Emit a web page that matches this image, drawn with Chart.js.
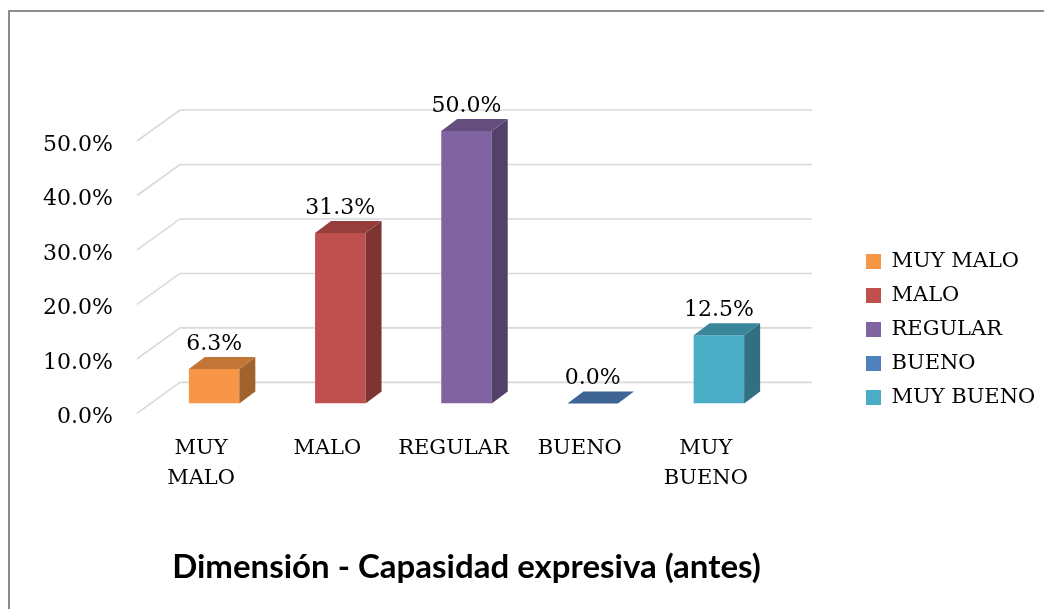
<!DOCTYPE html>
<html><head><meta charset="utf-8">
<script src="https://cdn.jsdelivr.net/npm/chart.js@4.4.0/dist/chart.umd.min.js"></script>
<style>
html,body{margin:0;padding:0;background:#fff;}
#wrap{position:relative;width:1044px;height:609px;overflow:hidden;background:#fff;}
#frame{position:absolute;left:8px;top:10px;width:1100px;height:700px;border:2px solid #8c8c8c;box-sizing:border-box;pointer-events:none;}
canvas{position:absolute;left:0;top:0;}
</style></head><body>
<div id="wrap"><canvas id="c" width="1044" height="609"></canvas><div id="frame"></div></div>
<script>
// ---- data ----
const categories = [['MUY', 'MALO'], 'MALO', 'REGULAR', 'BUENO', ['MUY', 'BUENO']];
const legendNames = ['MUY MALO', 'MALO', 'REGULAR', 'BUENO', 'MUY BUENO'];
const values = [6.3, 31.3, 50.0, 0.0, 12.5];
const yTicks = [0, 10, 20, 30, 40, 50];
const colors = ['#F79646', '#C0504D', '#8064A2', '#4F81BD', '#4BACC6'];
const titleText = 'Dimensión - Capasidad expresiva (antes)';

// ---- styling helpers ----
function shade(hex, f) {
  const n = parseInt(hex.slice(1), 16);
  const r = Math.round(((n >> 16) & 255) * f), g = Math.round(((n >> 8) & 255) * f), b = Math.round((n & 255) * f);
  return `rgb(${r},${g},${b})`;
}
const fmt = v => v.toFixed(1) + '%';
const depth = { dx: 16, dy: -12 };
const wall = { frontDx: -14, frontDy: 10, backDx: 29, backDy: -21, rightExtra: 30 };
const serif = '"DejaVu Serif", "Liberation Serif", serif';

const threeD = {
  id: 'threeD',
  beforeDatasetsDraw(chart) {
    const { ctx, chartArea: a, scales: { y } } = chart;
    ctx.save();
    ctx.strokeStyle = '#d9d9d9';
    ctx.lineWidth = 1.6;
    y.ticks.forEach(t => {
      const p = y.getPixelForValue(t.value);
      ctx.beginPath();
      ctx.moveTo(a.left + wall.frontDx, p + wall.frontDy);
      ctx.lineTo(a.left + wall.backDx, p + wall.backDy);
      ctx.lineTo(a.right + wall.rightExtra, p + wall.backDy);
      ctx.stroke();
    });
    ctx.restore();
  },
  afterDatasetsDraw(chart) {
    const ctx = chart.ctx;
    const meta = chart.getDatasetMeta(0);
    ctx.save();
    meta.data.forEach((bar, i) => {
      const { x, y, base, width } = bar.getProps(['x', 'y', 'base', 'width'], true);
      const l = x - width / 2, r = x + width / 2;
      const { dx, dy } = depth;
      ctx.fillStyle = shade(colors[i], 0.65);
      ctx.beginPath();
      ctx.moveTo(r, y); ctx.lineTo(r + dx, y + dy); ctx.lineTo(r + dx, base + dy); ctx.lineTo(r, base);
      ctx.closePath(); ctx.fill();
      ctx.fillStyle = shade(colors[i], 0.78);
      ctx.beginPath();
      ctx.moveTo(l, y); ctx.lineTo(l + dx, y + dy); ctx.lineTo(r + dx, y + dy); ctx.lineTo(r, y);
      ctx.closePath(); ctx.fill();
      ctx.fillStyle = '#000';
      ctx.font = '22px ' + serif;
      ctx.textAlign = 'center';
      ctx.textBaseline = 'middle';
      ctx.fillText(fmt(values[i]), x, y - 25);
    });
    ctx.restore();
  }
};

const legendPlace = {
  id: 'legendPlace',
  afterLayout(chart) {
    const lg = chart.legend;
    const w = lg.width, h = lg.height;
    lg.left = 853; lg.top = 238;
    lg.right = lg.left + w; lg.bottom = lg.top + h;
  }
};

new Chart(document.getElementById('c'), {
  type: 'bar',
  data: {
    labels: categories,
    datasets: [{
      label: 'Dimensión',
      data: values,
      backgroundColor: colors,
      borderWidth: 0,
      categoryPercentage: 1.0,
      barPercentage: 0.4
    }]
  },
  options: {
    responsive: false,
    animation: false,
    devicePixelRatio: 1,
    layout: { padding: { top: 131, left: 21, right: 262, bottom: 0 } },
    scales: {
      x: {
        grid: { display: false, drawTicks: false },
        border: { display: false },
        ticks: {
          color: '#000',
          font: { family: serif, size: 21, lineHeight: 1.43 },
          padding: 30,
          labelOffset: -13,
          maxRotation: 0,
          autoSkip: false
        },
        afterFit: s => { s.height = 90; }
      },
      y: {
        min: 0, max: 50,
        grid: { display: false, drawTicks: false },
        border: { display: false },
        afterBuildTicks: s => { s.ticks = yTicks.map(v => ({ value: v })); },
        ticks: {
          color: '#000',
          font: { family: serif, size: 22 },
          padding: 38,
          labelOffset: 14,
          callback: v => fmt(v)
        },
        afterFit: s => { s.width = 130; }
      }
    },
    plugins: {
      legend: {
        position: 'chartArea',
        align: 'start',
        labels: {
          boxWidth: 15,
          boxHeight: 15,
          padding: 13,
          color: '#000',
          font: { family: serif, size: 21 },
          generateLabels: () => legendNames.map((n, i) => ({
            text: n, fillStyle: colors[i], strokeStyle: colors[i], lineWidth: 0, hidden: false, index: i
          }))
        }
      },
      title: {
        display: true,
        position: 'bottom',
        fullSize: false,
        text: titleText,
        color: '#000',
        font: { family: 'Lato, "Open Sans", sans-serif', size: 33, weight: 'bold', lineHeight: 1.2 },
        padding: { top: 54, bottom: 22 }
      },
      tooltip: { enabled: false }
    }
  },
  plugins: [threeD, legendPlace]
});
</script>
</body></html>
